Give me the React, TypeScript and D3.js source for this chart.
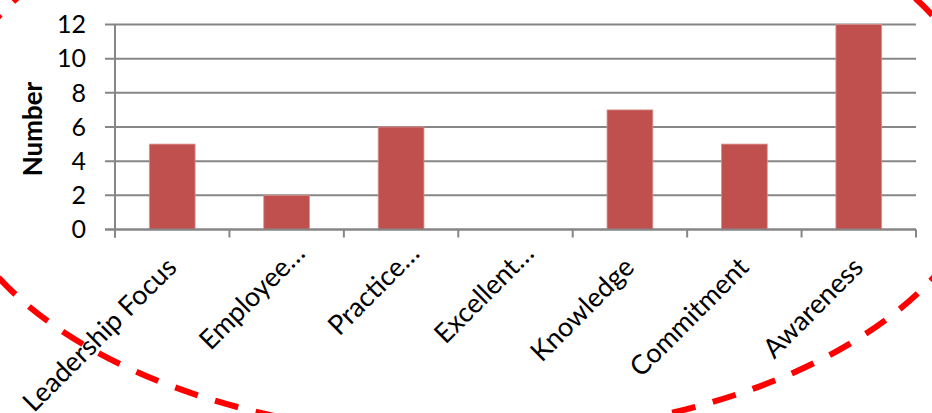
import React from "react";
import * as d3 from "d3";

const categories = [
  "Leadership Focus",
  "Employee…",
  "Practice…",
  "Excellent…",
  "Knowledge",
  "Commitment",
  "Awareness",
];
const values = [5, 2, 6, 0, 7, 5, 12];
const yTicks = [0, 2, 4, 6, 8, 10, 12];
const yTitle = "Number";

const W = 932;
const H = 413;
const plot = { left: 115, right: 916, top: 24.5, bottom: 229.5 };
const FONT = "Lato, 'Open Sans', sans-serif";

export default function App() {
  const x = d3
    .scaleBand<string>()
    .domain(categories)
    .range([plot.left, plot.right])
    .paddingInner(0.6)
    .paddingOuter(0.3);
  const step = x.step();
  const y = d3.scaleLinear().domain([0, 12]).range([plot.bottom, plot.top]);

  const boundaries = d3.range(categories.length + 1).map((i) => plot.left + i * step);
  const grid = "#868686";

  return (
    <svg
      width={W}
      height={H}
      style={{ position: "absolute", left: 0, top: 0, background: "#fff" }}
      fontFamily={FONT}
    >
      {yTicks.map((t) => (
        <line
          key={"g" + t}
          x1={plot.left - 10}
          x2={plot.right}
          y1={y(t)}
          y2={y(t)}
          stroke={grid}
          strokeWidth={2}
        />
      ))}
      <line x1={plot.left} x2={plot.left} y1={plot.top} y2={plot.bottom + 8} stroke={grid} strokeWidth={2} />
      {boundaries.map((b, i) => (
        <line key={"t" + i} x1={b} x2={b} y1={plot.bottom} y2={plot.bottom + 8} stroke={grid} strokeWidth={2} />
      ))}
      {categories.map((c, i) =>
        values[i] > 0 ? (
          <rect
            key={"b" + c}
            x={x(c)!}
            y={y(values[i])}
            width={x.bandwidth()}
            height={y(0) - y(values[i])}
            fill="#C0504D"
            stroke="#D9928F"
            strokeWidth={0.8}
          />
        ) : null
      )}
      <line x1={plot.left - 10} x2={plot.right} y1={plot.bottom} y2={plot.bottom} stroke={grid} strokeWidth={2} />
      {yTicks.map((t) => (
        <text key={"l" + t} x={86} y={y(t)} dy="0.35em" textAnchor="end" fontSize={25} fill="#000">
          {t}
        </text>
      ))}
      <text
        transform={`translate(42,${(plot.top + plot.bottom) / 2 + 2}) rotate(-90)`}
        textAnchor="middle"
        fontSize={26}
        fontWeight="bold"
        fill="#000"
      >
        {yTitle}
      </text>
      {categories.map((c) => {
        const cx = x(c)! + x.bandwidth() / 2;
        const trunc = c.endsWith("…");
        const px = cx + (trunc ? 20 : 6);
        const py = trunc ? 255 : 269;
        return (
          <text
            key={"c" + c}
            transform={`translate(${px},${py}) rotate(-45)`}
            textAnchor="end"
            fontSize={27}
            fill="#000"
          >
            {c}
          </text>
        );
      })}
      <ellipse
        cx={466}
        cy={147}
        rx={524}
        ry={289}
        fill="none"
        stroke="#FF0000"
        strokeWidth={6}
        strokeDasharray="24 18"
      />
    </svg>
  );
}
